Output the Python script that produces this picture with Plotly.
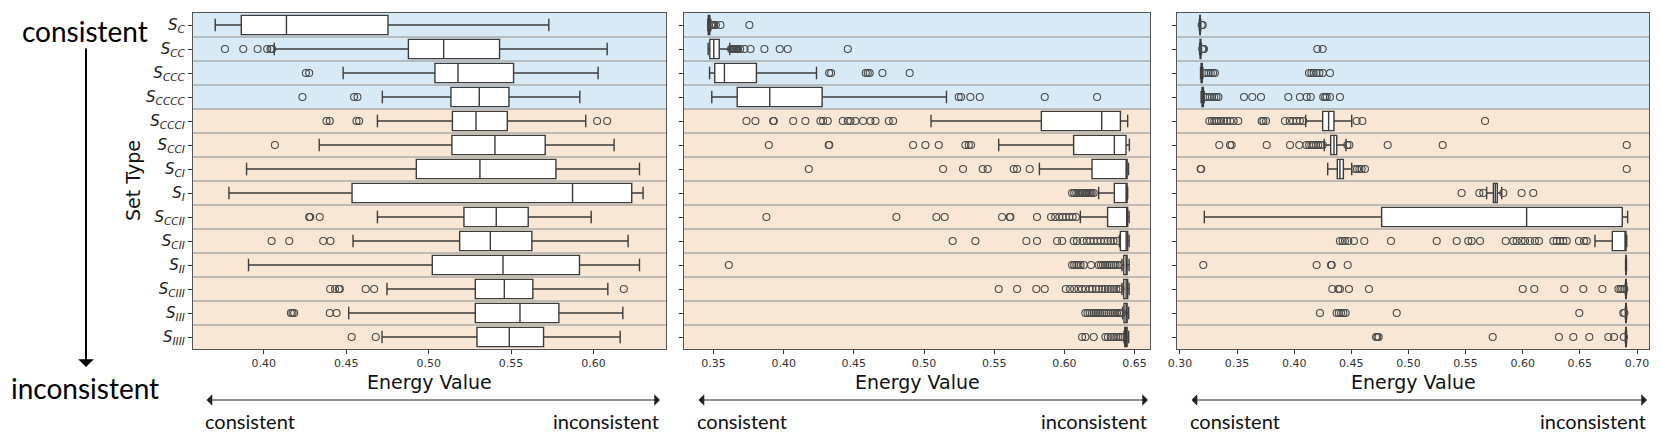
import plotly.graph_objects as go

W, H = 1661, 439

set_types = ["C", "CC", "CCC", "CCCC", "CCCI", "CCI", "CI", "I", "CCII", "CII", "II", "CIII", "III", "IIII"]
tick_labels = [f"<i>S</i><sub><i>{s}</i></sub>" for s in set_types]
n_consistent = 4

# ---------------- Panel 1 ----------------
p1_lower = [0.3705, 0.4063, 0.4481, 0.4719, 0.4689, 0.4336, 0.3895, 0.3788, 0.4689, 0.4541, 0.3907, 0.4747, 0.4515, 0.4717]
p1_q1 = [0.3863, 0.4877, 0.5038, 0.5135, 0.5144, 0.5141, 0.4925, 0.4535, 0.5214, 0.5188, 0.5022, 0.5283, 0.5283, 0.5293]
p1_med = [0.4137, 0.5091, 0.5178, 0.5307, 0.5287, 0.5402, 0.5311, 0.5873, 0.5410, 0.5374, 0.5451, 0.5459, 0.5554, 0.5489]
p1_q3 = [0.4753, 0.5430, 0.5515, 0.5487, 0.5477, 0.5707, 0.5772, 0.6232, 0.5604, 0.5626, 0.5915, 0.5632, 0.5790, 0.5697]
p1_upper = [0.5729, 0.6083, 0.6028, 0.5917, 0.5953, 0.6125, 0.6279, 0.6301, 0.5986, 0.6210, 0.6279, 0.6087, 0.6178, 0.6162]
p1_out = [
    [],
    [0.3764, 0.3875, 0.3962, 0.4020, 0.4041, 0.4050],
    [0.4255, 0.4275],
    [0.4234, 0.4547, 0.4568],
    [0.4380, 0.4400, 0.4562, 0.4578, 0.6022, 0.6083],
    [0.4067],
    [],
    [],
    [0.4275, 0.4281, 0.4339],
    [0.4047, 0.4154, 0.4360, 0.4404],
    [],
    [0.4402, 0.4432, 0.4455, 0.4461, 0.4618, 0.4669, 0.6184],
    [0.4164, 0.4174, 0.4184, 0.4400, 0.4441],
    [0.4533, 0.4679],
]

# ---------------- Panel 2 ----------------
p2_lower = [0.3460, 0.3462, 0.3472, 0.3488, 0.5050, 0.5532, 0.5822, 0.6244, 0.6114, 0.6392, 0.6410, 0.6410, 0.6415, 0.6425]
p2_q1 = [0.3463, 0.3474, 0.3509, 0.3669, 0.5836, 0.6066, 0.6197, 0.6356, 0.6308, 0.6399, 0.6423, 0.6423, 0.6425, 0.6430]
p2_med = [0.3467, 0.3502, 0.3578, 0.3901, 0.6266, 0.6356, 0.6440, 0.6440, 0.6445, 0.6440, 0.6440, 0.6440, 0.6440, 0.6440]
p2_q3 = [0.3474, 0.3541, 0.3806, 0.4274, 0.6399, 0.6439, 0.6447, 0.6447, 0.6451, 0.6451, 0.6447, 0.6451, 0.6447, 0.6447]
p2_upper = [0.3481, 0.3616, 0.4234, 0.5160, 0.6451, 0.6463, 0.6457, 0.6451, 0.6461, 0.6461, 0.6461, 0.6461, 0.6458, 0.6458]
p2_out = [
    [0.3484, 0.3490, 0.3498, 0.3505, 0.3517, 0.3550, 0.3756],
    [0.3625, 0.3632, 0.3638, 0.3645, 0.3650, 0.3656, 0.3662, 0.3668, 0.3675, 0.3690, 0.3721, 0.3764, 0.3863, 0.3972, 0.4029, 0.4457],
    [0.4324, 0.4338, 0.4585, 0.4599, 0.4613, 0.4704, 0.4898],
    [0.5247, 0.5264, 0.5330, 0.5397, 0.5860, 0.6233],
    [0.3735, 0.3799, 0.3925, 0.3930, 0.4068, 0.4155, 0.4262, 0.4281, 0.4314, 0.4421, 0.4457, 0.4476, 0.4511,
     0.4566, 0.4618, 0.4654, 0.4749, 0.4780],
    [0.3894, 0.4321, 0.4325, 0.4922, 0.5010, 0.5105, 0.5295, 0.5319, 0.5335],
    [0.4179, 0.5136, 0.5278, 0.5418, 0.5454, 0.5639, 0.5663, 0.5753],
    [0.6055, 0.6070, 0.6085, 0.6100, 0.6112, 0.6125, 0.6135, 0.6145, 0.6155, 0.6165, 0.6175, 0.6185, 0.6195, 0.6209],
    [0.3877, 0.4803, 0.5088, 0.5147, 0.5556, 0.5611, 0.5615, 0.5805, 0.5905, 0.5934, 0.5964, 0.5988, 0.6011,
     0.6035, 0.6059, 0.6083],
    [0.5204, 0.5366, 0.5729, 0.5805, 0.5948, 0.5984, 0.6066, 0.6090, 0.6130, 0.6160, 0.6185, 0.6210, 0.6235,
     0.6260, 0.6285, 0.6310, 0.6330, 0.6350, 0.6375],
    [0.3609, 0.6055, 0.6070, 0.6085, 0.6100, 0.6115, 0.6138, 0.6190, 0.6244, 0.6260, 0.6275, 0.6290, 0.6305,
     0.6320, 0.6335, 0.6350, 0.6365, 0.6380, 0.6399],
    [0.5532, 0.5663, 0.5800, 0.5860, 0.6010, 0.6040, 0.6070, 0.6100, 0.6125, 0.6150, 0.6180, 0.6200, 0.6225,
     0.6245, 0.6270, 0.6290, 0.6310, 0.6330, 0.6350, 0.6370, 0.6390, 0.6400],
    [0.6149, 0.6165, 0.6180, 0.6195, 0.6210, 0.6225, 0.6240, 0.6255, 0.6270, 0.6285, 0.6300, 0.6315, 0.6330,
     0.6345, 0.6360, 0.6375, 0.6390, 0.6400, 0.6411],
    [0.6126, 0.6150, 0.6209, 0.6292, 0.6310, 0.6330, 0.6350, 0.6370, 0.6385, 0.6400, 0.6415],
]

# ---------------- Panel 3 ----------------
p3_lower = [0.3170, 0.3172, 0.3180, 0.3185, 0.4100, 0.4263, 0.4293, 0.5684, 0.3213, 0.6632, 0.6900, 0.6898, 0.6898, 0.6898]
p3_q1 = [0.3173, 0.3176, 0.3185, 0.3193, 0.4249, 0.4319, 0.4377, 0.5743, 0.4765, 0.6784, 0.6902, 0.6901, 0.6901, 0.6901]
p3_med = [0.3175, 0.3180, 0.3190, 0.3199, 0.4301, 0.4348, 0.4400, 0.5760, 0.6034, 0.6900, 0.6904, 0.6904, 0.6904, 0.6904]
p3_q3 = [0.3178, 0.3183, 0.3195, 0.3205, 0.4348, 0.4372, 0.4430, 0.5777, 0.6871, 0.6904, 0.6906, 0.6906, 0.6906, 0.6906]
p3_upper = [0.3182, 0.3188, 0.3200, 0.3212, 0.4503, 0.4453, 0.4503, 0.5816, 0.6918, 0.6910, 0.6908, 0.6909, 0.6909, 0.6909]
p3_out = [
    [0.3190, 0.3199],
    [0.3195, 0.3202, 0.3210, 0.4202, 0.4249],
    [0.3213, 0.3230, 0.3250, 0.3270, 0.3290, 0.3306, 0.4129, 0.4150, 0.4170, 0.4195, 0.4220, 0.4250, 0.4313],
    [0.3220, 0.3240, 0.3260, 0.3280, 0.3300, 0.3320, 0.3337, 0.3560, 0.3633, 0.3709, 0.3948, 0.4050, 0.4109,
     0.4144, 0.4254, 0.4270, 0.4284, 0.4313, 0.4400],
    [0.3257, 0.3280, 0.3300, 0.3320, 0.3340, 0.3360, 0.3385, 0.3410, 0.3440, 0.3470, 0.3510, 0.3715, 0.3730,
     0.3753, 0.3919, 0.3960, 0.3990, 0.4020, 0.4050, 0.4079, 0.4546, 0.4596, 0.5670],
    [0.3344, 0.3438, 0.3452, 0.3759, 0.3963, 0.4044, 0.4106, 0.4130, 0.4150, 0.4170, 0.4190, 0.4210, 0.4230,
     0.4250, 0.4465, 0.4483, 0.4818, 0.5299, 0.6910],
    [0.3181, 0.3185, 0.4532, 0.4550, 0.4570, 0.4590, 0.4619, 0.6910],
    [0.5465, 0.5620, 0.5655, 0.5830, 0.5990, 0.6092],
    [],
    [0.4400, 0.4424, 0.4444, 0.4473, 0.4523, 0.4613, 0.4847, 0.5247, 0.5422, 0.5523, 0.5553, 0.5626, 0.5851,
     0.5917, 0.5947, 0.5990, 0.6020, 0.6063, 0.6107, 0.6142, 0.6268, 0.6297, 0.6326, 0.6355, 0.6385, 0.6492,
     0.6536, 0.6560],
    [0.3204, 0.4196, 0.4322, 0.4328, 0.4468],
    [0.4333, 0.4386, 0.4400, 0.4479, 0.4654, 0.6000, 0.6101, 0.6364, 0.6530, 0.6697, 0.6837, 0.6855, 0.6870, 0.6889],
    [0.4225, 0.4371, 0.4390, 0.4410, 0.4430, 0.4450, 0.4897, 0.6495, 0.6880, 0.6890],
    [0.4716, 0.4727, 0.4739, 0.5737, 0.6317, 0.6443, 0.6583, 0.6749, 0.6799, 0.6885],
]

x_ranges = [[0.357, 0.644], [0.329, 0.661], [0.2974, 0.7105]]
x_ticks = [[0.40, 0.45, 0.50, 0.55, 0.60],
           [0.35, 0.40, 0.45, 0.50, 0.55, 0.60, 0.65],
           [0.30, 0.35, 0.40, 0.45, 0.50, 0.55, 0.60, 0.65, 0.70]]

panels = [
    (p1_lower, p1_q1, p1_med, p1_q3, p1_upper, p1_out),
    (p2_lower, p2_q1, p2_med, p2_q3, p2_upper, p2_out),
    (p3_lower, p3_q1, p3_med, p3_q3, p3_upper, p3_out),
]

# pixel layout of the three plot areas
px_x = [(193, 666), (684, 1150), (1177, 1649)]
px_top, px_bot = 13, 349
arrow_px = [(205, 660), (697, 1148), (1190, 1647)]

BLUE = "#d8eaf6"
ORANGE = "#f7e7d4"
SEP = "#ababab"
EDGE = "#3c3c3c"
PT = "#4a4a4a"

def fx(p):
    return p / W

def fy(p):
    return 1 - p / H

fig = go.Figure()
rows = list(range(len(set_types)))

for i, (lo, q1, med, q3, up, outs) in enumerate(panels):
    sfx = "" if i == 0 else str(i + 1)
    xa, ya = "x" + sfx, "y" + sfx
    fig.add_trace(go.Box(
        y=rows, q1=q1, median=med, q3=q3, lowerfence=lo, upperfence=up,
        orientation="h", boxpoints=False, width=0.8,
        fillcolor="white", line=dict(color=EDGE, width=1.4),
        whiskerwidth=0, xaxis=xa, yaxis=ya, showlegend=False, hoverinfo="skip"))
    # whisker caps
    cap_x = lo + up
    cap_y = rows + rows
    fig.add_trace(go.Scatter(
        x=cap_x, y=cap_y, mode="markers", xaxis=xa, yaxis=ya,
        marker=dict(symbol="line-ns-open", size=9, color=EDGE, line=dict(color=EDGE, width=1.4)),
        showlegend=False, hoverinfo="skip"))
    # outliers
    ox, oy = [], []
    for r, vals in enumerate(outs):
        ox += vals
        oy += [r] * len(vals)
    fig.add_trace(go.Scatter(
        x=ox, y=oy, mode="markers", xaxis=xa, yaxis=ya,
        marker=dict(symbol="circle-open", size=7, color=PT, line=dict(color=PT, width=1.1)),
        showlegend=False, hoverinfo="skip"))

    x0, x1 = px_x[i]
    fig.update_layout(**{
        ("xaxis" + sfx): dict(
            domain=[fx(x0), fx(x1)], range=x_ranges[i], tickvals=x_ticks[i],
            tickformat=".2f", showgrid=False, zeroline=False, showline=True, mirror=True,
            linecolor="#555555", linewidth=1.2, ticks="outside", ticklen=4, tickcolor="#333",
            tickfont=dict(family="DejaVu Sans", size=11, color="#333"), anchor=ya, automargin=False),
        ("yaxis" + sfx): dict(
            domain=[fy(px_bot), fy(px_top)], range=[13.5, -0.5], tickvals=rows,
            ticktext=tick_labels, showticklabels=(i == 0), showgrid=False, zeroline=False,
            showline=True, mirror=True, linecolor="#555555", linewidth=1.2, ticks="outside",
            ticklen=4, tickcolor="#333", tickfont=dict(family="DejaVu Sans", size=15, color="#222"),
            anchor=xa, automargin=False),
    })

    # row backgrounds and separators
    xref = xa + " domain"
    fig.add_shape(type="rect", xref=xref, yref=ya, x0=0, x1=1, y0=-0.5, y1=n_consistent - 0.5,
                  fillcolor=BLUE, line_width=0, layer="below")
    fig.add_shape(type="rect", xref=xref, yref=ya, x0=0, x1=1, y0=n_consistent - 0.5,
                  y1=len(set_types) - 0.5, fillcolor=ORANGE, line_width=0, layer="below")
    for k in range(len(set_types) - 1):
        fig.add_shape(type="line", xref=xref, yref=ya, x0=0, x1=1, y0=k + 0.5, y1=k + 0.5,
                      line=dict(color=SEP, width=1.6), layer="below")

    # x titles and direction arrows
    fig.add_annotation(text="Energy Value", xref="paper", yref="paper", x=fx((x0 + x1) / 2),
                       y=fy(382), showarrow=False, xanchor="center", yanchor="middle",
                       font=dict(family="DejaVu Sans", size=19, color="#111"))
    a0, a1 = arrow_px[i]
    fig.add_annotation(text="", xref="paper", yref="paper", x=fx(a1), y=fy(400),
                       ax=-(a1 - a0), ay=0, axref="pixel", ayref="pixel", showarrow=True,
                       arrowhead=1, startarrowhead=1, arrowside="end+start", arrowsize=1.6,
                       startarrowsize=1.6, arrowwidth=1.2, arrowcolor="#222")
    fig.add_annotation(text="consistent", xref="paper", yref="paper", x=fx(a0 - 2), y=fy(421),
                       showarrow=False, xanchor="left", yanchor="middle",
                       font=dict(family="Lato", size=20, color="#111"))
    fig.add_annotation(text="inconsistent", xref="paper", yref="paper", x=fx(a1 + 1), y=fy(421),
                       showarrow=False, xanchor="right", yanchor="middle",
                       font=dict(family="Lato", size=20, color="#111"))

# "Set Type" label
fig.add_annotation(text="Set Type", xref="paper", yref="paper", x=fx(133), y=fy(181),
                   textangle=-90, showarrow=False, xanchor="center", yanchor="middle",
                   font=dict(family="DejaVu Sans", size=19, color="#111"))

# left-hand direction legend
fig.add_annotation(text="consistent", xref="paper", yref="paper", x=fx(85), y=fy(31),
                   showarrow=False, xanchor="center", yanchor="middle",
                   font=dict(family="Lato", size=28, color="#000"))
fig.add_annotation(text="inconsistent", xref="paper", yref="paper", x=fx(85), y=fy(388),
                   showarrow=False, xanchor="center", yanchor="middle",
                   font=dict(family="Lato", size=28, color="#000"))
fig.add_annotation(text="", xref="paper", yref="paper", x=fx(86), y=fy(367),
                   ax=0, ay=-320, axref="pixel", ayref="pixel", showarrow=True,
                   arrowhead=1, arrowsize=1.3, arrowwidth=2, arrowcolor="#000")

fig.update_layout(width=W, height=H, margin=dict(l=0, r=0, t=0, b=0),
                  plot_bgcolor="white", paper_bgcolor="white")

fig.write_html("out.html", config={"displayModeBar": False},
               post_script="document.body.style.margin='0px';")
